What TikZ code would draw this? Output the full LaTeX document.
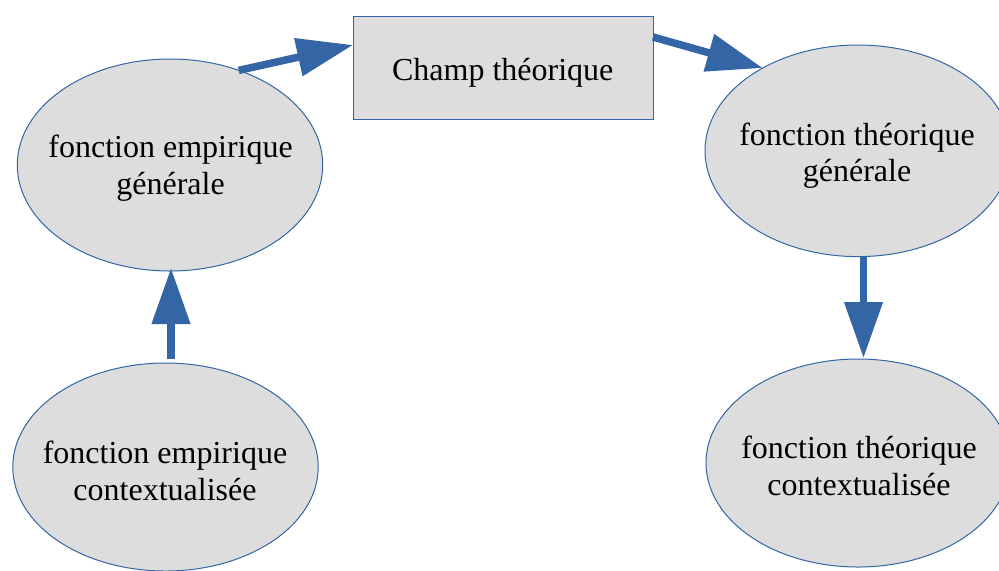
\documentclass[tikz,border=0pt]{standalone}
\usepackage{fontspec}
\setmainfont{Liberation Serif}
\usetikzlibrary{shapes.geometric,arrows.meta,calc}
\definecolor{arrblue}{RGB}{52,101,164}
\definecolor{fillgray}{RGB}{221,221,221}
\begin{document}
\begin{tikzpicture}[x=0.5pt,y=-0.5pt,
  ell/.style={ellipse, draw=arrblue, fill=fillgray, line width=0.5pt, inner sep=0pt, outer sep=0pt},
  boxnode/.style={rectangle, draw=arrblue, fill=fillgray, line width=0.5pt, inner sep=0pt, outer sep=0pt, minimum width=150pt, minimum height=51.5pt},
  txt/.style={align=center, font=\fontsize{16}{18.3}\selectfont, inner sep=0pt, anchor=base},
  arr/.style={draw=arrblue, line width=3.75pt, -{Triangle[length=28pt,width=18.5pt]}}]
\useasboundingbox (0,0) rectangle (999,570);
\node[ell, minimum width=152.7pt, minimum height=106pt] (e1) at (170,165) {};
\node[ell, minimum width=153pt, minimum height=105.8pt] (e2) at (858,150.8) {};
\node[ell, minimum width=152.7pt, minimum height=104pt] (e3) at (165.5,467) {};
\node[ell, minimum width=152pt, minimum height=104pt] (e4) at (858,463) {};
\node[boxnode] (box) at (503,67.5) {};
\node[txt] (t0) at (502.7,80) {Champ théorique};
\node[txt] (t1) at (170.6,194.3) {fonction empirique\\générale};
\node[txt] (t2) at (857,181.7) {fonction théorique\\générale};
\node[txt] (t3) at (165,500) {fonction empirique\\contextualisée};
\node[txt] (t4) at (859,495) {fonction théorique\\contextualisée};
\draw[arr] (e1.54) -- ($(box.west)+(0,-22.5)$);
\draw[arr] ($(box.east)+(0,-30.5)$) -- (e2.139);
\draw[arr] ($(e2.south)+(5.5,0)$) -- ($(e4.north)+(5.5,-1)$);
\draw[arr] ($(e3.north)+(5.5,-4)$) -- ($(e1.south)+(1,-3)$);
\end{tikzpicture}
\end{document}
